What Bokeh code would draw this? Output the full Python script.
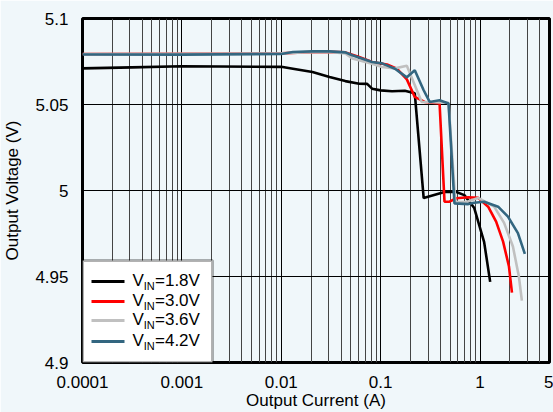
from bokeh.plotting import figure
from bokeh.models import (Range1d, FixedTicker, CustomJSTickFormatter, Label, BoxAnnotation)
from bokeh.embed import file_html
from bokeh.resources import INLINE

# ---- data ----
series_names = ["1.8V", "3.0V", "3.6V", "4.2V"]
series_colors = ["#000000", "#FF0000", "#C0C0C0", "#336680"]

i_18 = [1e-4, 3.16e-4, 1e-3, 0.01, 0.0131, 0.0206, 0.0306, 0.0441, 0.0608, 0.0731, 0.082,
        0.1, 0.13, 0.175, 0.2205, 0.271, 0.439, 0.578, 0.695, 0.875, 1.10, 1.265]
v_18 = [5.071, 5.0716, 5.0722, 5.0719, 5.0708, 5.0689, 5.066, 5.0636, 5.0621, 5.062, 5.0592,
        5.0582, 5.0577, 5.058, 5.0565, 4.9956, 4.9991, 4.9991, 4.9973, 4.9898, 4.970, 4.9469]

i_30 = [1e-4, 0.01, 0.0164, 0.0306, 0.0441, 0.0608, 0.082, 0.1158, 0.1457, 0.1834, 0.2205,
        0.2773, 0.3917, 0.439, 0.493, 0.578, 0.763, 0.959, 1.207, 1.452, 1.706, 1.955, 2.095]
v_30 = [5.0794, 5.0797, 5.0803, 5.0806, 5.0803, 5.0776, 5.0747, 5.0733, 5.0708, 5.0646, 5.0544,
        5.0515, 5.0506, 4.9935, 4.9935, 4.9955, 4.9961, 4.9957, 4.9906, 4.9819, 4.9703, 4.9558, 4.9406]

i_36 = [1e-4, 0.01, 0.0164, 0.0306, 0.0441, 0.0518, 0.082, 0.1032, 0.1393, 0.1834, 0.2589,
        0.326, 0.482, 0.565, 0.728, 0.959, 1.387, 1.746, 2.143, 2.46, 2.636]
v_36 = [5.0794, 5.0797, 5.0803, 5.0806, 5.0797, 5.0768, 5.0737, 5.0718, 5.0710, 5.0725, 5.0515,
        5.0513, 5.051, 4.9933, 4.9933, 4.9957, 4.9906, 4.9812, 4.9674, 4.95, 4.936]

i_42 = [1e-4, 1e-3, 0.01, 0.0131, 0.0206, 0.0306, 0.0441, 0.0518, 0.082, 0.1032, 0.1393,
        0.1834, 0.2205, 0.271, 0.3113, 0.3917, 0.482, 0.553, 0.763, 0.875, 1.10, 1.52, 1.91,
        2.405, 2.825]
v_42 = [5.0791, 5.079, 5.0794, 5.0805, 5.0809, 5.0809, 5.0803, 5.0786, 5.0747, 5.0739, 5.0708,
        5.0658, 5.0699, 5.0583, 5.0515, 5.0525, 5.0506, 4.9925, 4.9921, 4.9929, 4.9935, 4.9906,
        4.9848, 4.9752, 4.9632]

x_major_ticks = [1e-4, 1e-3, 1e-2, 1e-1, 1, 5]
x_minor_ticks = [m * d for d in [1e-4, 1e-3, 1e-2, 1e-1] for m in range(2, 10)] + [2, 3, 4]
y_ticks = [4.9, 4.95, 5.0, 5.05, 5.1]

BG = "#F0F7FA"
FONT = "Liberation Sans"

p = figure(width=553, height=412, x_axis_type="log",
           x_range=Range1d(1e-4, 5), y_range=Range1d(4.9, 5.1),
           output_backend="svg", toolbar_location=None,
           background_fill_color=BG, border_fill_color=BG,
           min_border_left=78, min_border_right=4, min_border_top=18, min_border_bottom=49)

p.outline_line_color = "black"
p.outline_line_width = 3

p.xaxis.ticker = FixedTicker(ticks=x_major_ticks, minor_ticks=x_minor_ticks)
p.yaxis.ticker = FixedTicker(ticks=y_ticks)
p.xaxis.formatter = CustomJSTickFormatter(code="return String(tick);")
p.yaxis.formatter = CustomJSTickFormatter(code="return String(tick);")

for ax in (p.xaxis[0], p.yaxis[0]):
    ax.axis_line_color = None
    ax.major_tick_line_color = None
    ax.minor_tick_line_color = None
    ax.major_label_text_font = FONT
    ax.major_label_text_font_size = "17px"
    ax.major_label_text_color = "black"
    ax.axis_label_text_font = FONT
    ax.axis_label_text_font_size = "17px"
    ax.axis_label_text_font_style = "normal"
    ax.axis_label_text_color = "black"

p.xaxis.axis_label = "Output Current (A)"
p.yaxis.axis_label = "Output Voltage (V)"
p.xaxis.major_label_standoff = 7
p.xaxis.axis_label_standoff = 0
p.yaxis.major_label_standoff = 8
p.yaxis.axis_label_standoff = 10

p.xgrid.grid_line_color = "black"
p.xgrid.grid_line_width = 1
p.xgrid.minor_grid_line_color = "#444444"
p.xgrid.minor_grid_line_width = 1
p.ygrid.grid_line_color = "black"
p.ygrid.grid_line_width = 1

all_i = [i_18, i_30, i_36, i_42]
all_v = [v_18, v_30, v_36, v_42]
for xs, ys, c in zip(all_i, all_v, series_colors):
    p.line(xs, ys, line_color=c, line_width=2.6)

# ---- legend with subscripts (drawn manually) ----
p.add_layout(BoxAnnotation(left=0, right=130, bottom=0, top=102,
                           left_units="screen", right_units="screen",
                           bottom_units="screen", top_units="screen",
                           fill_color="white", fill_alpha=1.0,
                           line_color="black", line_width=3))
row_y = [81, 61, 42, 21]
for name, c, ry in zip(series_names, series_colors, row_y):
    p.add_layout(BoxAnnotation(left=9, right=42, bottom=ry - 1.5, top=ry + 1.5,
                               left_units="screen", right_units="screen",
                               bottom_units="screen", top_units="screen",
                               fill_color=c, fill_alpha=1.0, line_color=None))
    p.add_layout(Label(x=50, y=ry + 1, x_units="screen", y_units="screen", text="V",
                       text_font=FONT, text_font_size="17px", text_baseline="middle",
                       text_color="black"))
    p.add_layout(Label(x=61.3, y=ry - 4, x_units="screen", y_units="screen", text="IN",
                       text_font=FONT, text_font_size="11px", text_baseline="middle",
                       text_color="black"))
    p.add_layout(Label(x=72.5, y=ry + 1, x_units="screen", y_units="screen", text="=" + name,
                       text_font=FONT, text_font_size="17px", text_baseline="middle",
                       text_color="black"))

open("out.html", "w").write(file_html(p, INLINE))
